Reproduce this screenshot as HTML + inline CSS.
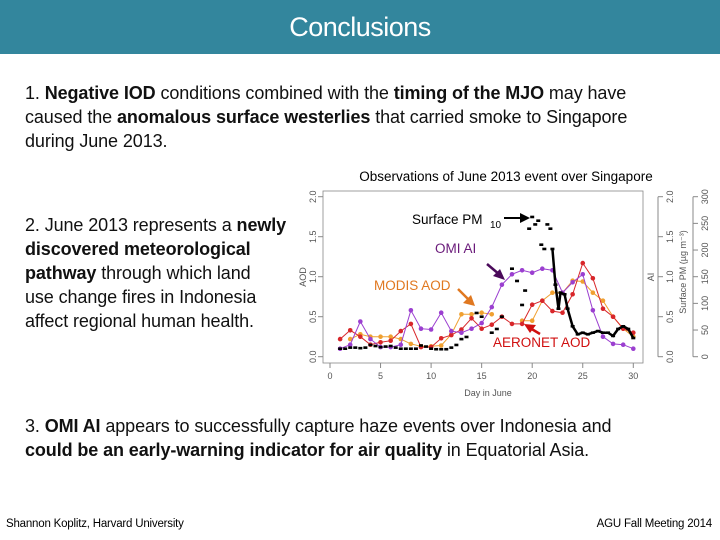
<!DOCTYPE html>
<html><head><meta charset="utf-8"><style>
body{margin:0;width:720px;height:540px;overflow:hidden;background:#fff;font-family:"Liberation Sans",sans-serif;position:relative}
.hdr{position:absolute;left:0;top:0;width:720px;height:54px;background:#33869d;color:#fff;font-size:27px;text-align:center;line-height:54px;letter-spacing:-0.5px}
.t{position:absolute;font-size:18px;line-height:24px;white-space:nowrap;letter-spacing:-0.1px;color:#111}
.f{position:absolute;font-size:11.5px;top:518px;letter-spacing:-0.2px}
</style></head><body>
<div class="hdr">Conclusions</div>
<div class="t" style="left:25px;top:81px">1. <b>Negative IOD</b> conditions combined with the <b>timing of the MJO</b> may have<br>caused the <b>anomalous surface westerlies</b> that carried smoke to Singapore<br>during June 2013.</div>
<div class="t" style="left:25px;top:213px">2. June 2013 represents a <b>newly</b><br><b>discovered meteorological</b><br><b>pathway</b> through which land<br>use change fires in Indonesia<br>affect regional human health.</div>
<div class="t" style="left:25px;top:414px">3. <b>OMI AI</b> appears to successfully capture haze events over Indonesia and<br><b>could be an early-warning indicator for air quality</b> in Equatorial Asia.</div>
<div class="f" style="left:6px">Shannon Koplitz, Harvard University</div>
<div class="f" style="right:8px">AGU Fall Meeting 2014</div>
<svg id="chart" width="720" height="540" style="position:absolute;left:0;top:0"></svg>
<script>
const days=[1,2,3,4,5,6,7,8,9,10,11,12,13,14,15,16,17,18,19,20,21,22,23,24,25,26,27,28,29,30];
const omiAI=[0.1,0.15,0.44,0.22,0.12,0.12,0.15,0.58,0.35,0.34,0.55,0.32,0.3,0.35,0.42,0.62,0.9,1.03,1.08,1.05,1.1,1.08,0.8,0.93,1.03,0.58,0.25,0.16,0.15,0.1];
const modisAOD=[null,0.22,0.28,0.25,0.25,0.25,0.22,0.16,0.13,0.13,0.14,0.28,0.53,0.53,0.55,0.53,null,null,0.45,0.45,0.7,0.8,0.8,0.95,0.94,0.8,0.7,0.5,0.35,0.25];
const aeronetAOD=[0.22,0.33,0.25,0.15,0.18,0.2,0.32,0.41,0.12,0.12,0.23,0.27,0.34,0.48,0.35,0.4,0.5,0.41,0.41,0.65,0.7,0.57,0.55,0.78,1.17,0.98,0.6,0.5,0.35,0.3];
const pmDays=[1,1.5,2,2.5,3,3.5,4,4.5,5,5.5,6,6.5,7,7.5,8,8.5,9,9.5,10,10.5,11,11.5,12,12.5,13,13.5,14.5,15,16,16.5,17,18,18.5,19,19.3,19.7,20,20.3,20.6,20.9,21.2,21.5,21.8,22,22.3,22.6,22.8,23.2,23.5,24,24.5,25,25.5,26,26.5,27,27.5,28,28.5,29,29.5,30];
const pmValues=[15,15,17,17,16,17,22,20,18,19,20,17,15,15,15,15,21,19,15,14,14,14,17,22,33,37,82,75,45,52,75,165,142,97,124,240,262,248,255,210,202,248,240,202,135,90,120,117,90,57,42,45,42,45,48,45,45,39,52,57,52,35];
const yTicks=[0,0.5,1,1.5,2], xTicks=[0,5,10,15,20,25,30], pmTicks=[0,50,100,150,200,250,300];
const X=d=>330+d*10.11, Y=v=>356.7-v*80, YP=p=>356.7-p*160/300;
const svg=document.getElementById('chart'),NS='http://www.w3.org/2000/svg';
function el(t,a,txt){const e=document.createElementNS(NS,t);for(const k in a)e.setAttribute(k,a[k]);if(txt!==undefined)e.textContent=txt;svg.appendChild(e);return e;}
let e;
e=el('text',{x:506,y:181,'font-size':'13.5','text-anchor':'middle','font-family':'Liberation Sans'},'Observations of June 2013 event over Singapore');

e=el('rect',{x:323,y:191,width:320,height:172,fill:'none',stroke:'#888','stroke-width':0.8});

const lab={'font-size':'9','fill':'#555','font-family':'Liberation Sans'};
yTicks.forEach(v=>{el('line',{x1:318,x2:323,y1:Y(v),y2:Y(v),stroke:'#888'});
 e=el('text',Object.assign({transform:`translate(316,${Y(v)}) rotate(-90)`,'text-anchor':'middle'},lab),v.toFixed(1));
 
 el('line',{x1:658,x2:663,y1:Y(v),y2:Y(v),stroke:'#888'});
 e=el('text',Object.assign({transform:`translate(673,${Y(v)}) rotate(-90)`,'text-anchor':'middle'},lab),v.toFixed(1));
 });
el('line',{x1:658,x2:658,y1:Y(0),y2:Y(2),stroke:'#888'});
pmTicks.forEach(p=>{el('line',{x1:693,x2:698,y1:YP(p),y2:YP(p),stroke:'#888'});
 e=el('text',Object.assign({transform:`translate(708,${YP(p)}) rotate(-90)`,'text-anchor':'middle'},lab),p);
 });
el('line',{x1:693,x2:693,y1:YP(0),y2:YP(300),stroke:'#888'});
xTicks.forEach(d=>{el('line',{x1:X(d),x2:X(d),y1:363,y2:368,stroke:'#888'});
 e=el('text',Object.assign({x:X(d),y:379,'text-anchor':'middle'},lab),d);
 });
e=el('text',Object.assign({x:488,y:396,'text-anchor':'middle'},lab),'Day in June');
e=el('text',Object.assign({transform:'translate(306,277) rotate(-90)','text-anchor':'middle'},lab),'AOD');
e=el('text',Object.assign({transform:'translate(654,277) rotate(-90)','text-anchor':'middle'},lab),'AI');
e=el('text',Object.assign({transform:'translate(686,272) rotate(-90)','text-anchor':'middle'},lab),'Surface PM (\u00b5g m\u207b\u00b3)');
function series(vals,color,name){let d='',pen=false;vals.forEach((v,i)=>{if(v===null){pen=false;return;}d+=(pen?'L':'M')+X(days[i])+' '+Y(v)+' ';pen=true;});
 e=el('path',{d:d,fill:'none',stroke:color,'stroke-width':1});
 vals.forEach((v,i)=>{if(v===null)return;e=el('circle',{cx:X(days[i]),cy:Y(v),r:2.3,fill:color});});}
series(modisAOD,'#f0a030','modis-aod');
series(aeronetAOD,'#d8262a','aeronet-aod');
series(omiAI,'#9b3fd0','omi-ai');
let pd='';pmDays.forEach((d,i)=>{if(d>=22)pd+=(pd?'L':'M')+X(d)+' '+YP(pmValues[i])+' ';});
e=el('path',{d:pd,fill:'none',stroke:'#000','stroke-width':2.5});
pmDays.forEach((d,i)=>{e=el('rect',{x:X(d)-2,y:YP(pmValues[i])-1.3,width:4,height:2.6,fill:'#000'});});
const ann={'font-size':'13.5','font-family':'Liberation Sans'};
e=el('text',Object.assign({x:412,y:224},ann),'Surface PM');
el('text',Object.assign({x:490,y:228,'font-size':'10'}),'10');
el('line',{x1:504,y1:218,x2:522,y2:218,stroke:'#000','stroke-width':2});el('polygon',{points:'530,218 520,213 520,223',fill:'#000'});
e=el('text',Object.assign({x:435,y:253,fill:'#6a1a7a'},ann),'OMI AI');
el('line',{x1:487,y1:264,x2:500,y2:275,stroke:'#4a0a5a','stroke-width':2.5});el('polygon',{points:'505,280 493,276 500,269',fill:'#4a0a5a'});
e=el('text',Object.assign({x:374,y:290,fill:'#e07820'},ann),'MODIS AOD');
el('line',{x1:458,y1:289,x2:470,y2:301,stroke:'#e07820','stroke-width':2.5});el('polygon',{points:'475,306 463,303 471,295',fill:'#e07820'});
e=el('text',Object.assign({x:493,y:347,fill:'#d01010'},ann),'AERONET AOD');
el('line',{x1:540,y1:334,x2:530,y2:328,stroke:'#d01010','stroke-width':2.5});el('polygon',{points:'524,324 536,325 530,333',fill:'#d01010'});
</script>
</body></html>
